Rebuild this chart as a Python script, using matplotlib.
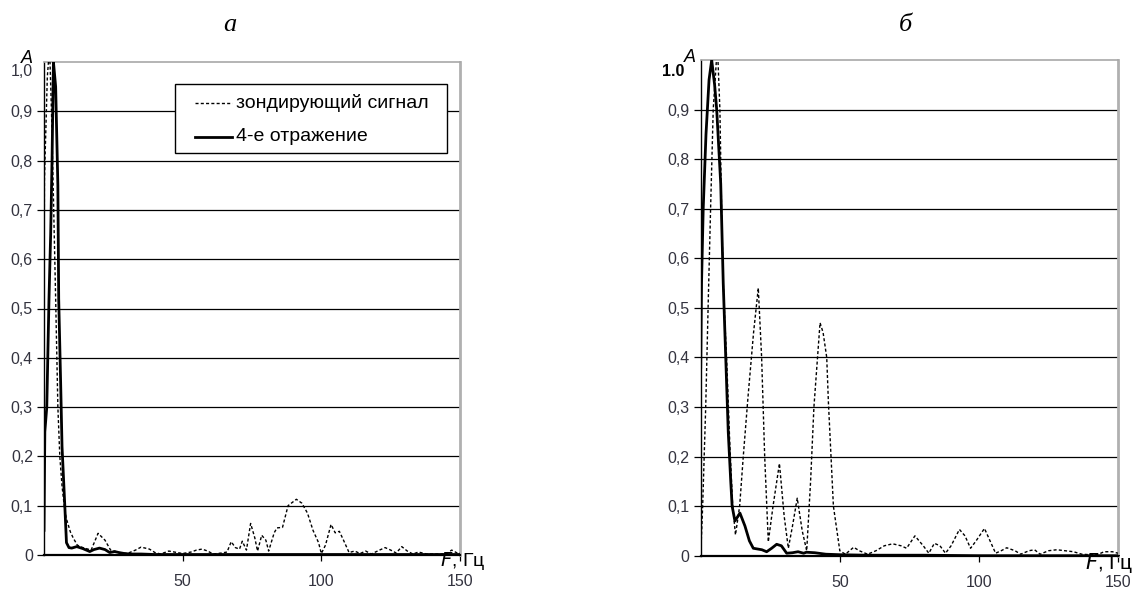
import matplotlib
matplotlib.use("Agg")
import matplotlib.pyplot as plt
from matplotlib.patches import Rectangle
from matplotlib.lines import Line2D

plt.rcParams['font.family'] = ['Liberation Sans', 'DejaVu Sans']

# ---------------- data ----------------
# panel a: probe signal (dashed)
fa_probe = [0, 0.15, 1.2, 2.0, 2.7, 3.5, 4.2, 5.0, 5.7, 6.5, 7.3, 8, 9.5, 10.5, 12, 14, 17,
            19.5, 22, 24, 27, 30, 33, 35, 38, 40, 42, 45, 48, 50, 53, 55, 57, 59, 61, 64,
            66, 67.5, 69, 70.5, 71.5, 73, 74.5, 76, 77, 78.5, 80, 81, 83, 84, 86, 88, 91,
            93, 95, 97, 99, 100, 101.5, 103.5, 105, 106.5, 108, 110, 112, 114, 116, 118,
            121, 123, 125, 127, 129, 131, 133, 135, 138, 142, 145, 147, 149, 150]
aa_probe = [0.47, 0.76, 0.97, 1.03, 0.9, 0.7, 0.52, 0.3, 0.2, 0.14, 0.1, 0.075, 0.047, 0.035,
            0.02, 0.015, 0.01, 0.044, 0.03, 0.01, 0.005, 0.003, 0.01, 0.016, 0.012, 0.005,
            0.002, 0.008, 0.005, 0.003, 0.006, 0.01, 0.012, 0.008, 0.002, 0.004, 0.006,
            0.027, 0.015, 0.012, 0.028, 0.01, 0.064, 0.035, 0.008, 0.04, 0.03, 0.008, 0.045,
            0.055, 0.056, 0.1, 0.113, 0.105, 0.085, 0.05, 0.025, 0.003, 0.02, 0.062, 0.045,
            0.048, 0.03, 0.005, 0.008, 0.003, 0.008, 0.002, 0.01, 0.015, 0.01, 0.004, 0.017,
            0.008, 0.002, 0.006, 0.002, 0.002, 0.002, 0.01, 0.004, 0.004]

# panel a: 4th reflection (solid)
fa_refl = [0, 0.3, 1.0, 1.8, 2.4, 2.9, 3.4, 4.2, 5.0, 5.3, 6.0, 6.5, 7.5, 8.1, 9, 10, 11.8,
           14, 16.5, 18, 20, 22, 23.7, 25.5, 27, 29, 31, 35, 40, 50, 150]
aa_refl = [0.05, 0.25, 0.3, 0.52, 0.65, 0.8, 1.0, 0.95, 0.75, 0.52, 0.35, 0.22, 0.1, 0.025,
           0.015, 0.014, 0.017, 0.013, 0.007, 0.011, 0.014, 0.011, 0.005, 0.007, 0.005, 0.003,
           0.002, 0.002, 0.001, 0.001, 0.001]

# panel b: probe signal (dashed)
fb_probe = [0, 0.7, 1.8, 2.7, 3.6, 4.5, 6.0, 6.9, 7.5, 8.1, 8.7, 9.3, 10.5, 11.5, 12.5, 14,
            15.3, 17, 19, 20.7, 21.9, 23.0, 24.3, 26, 28.3, 30, 31.5, 33, 34.7, 36.5, 38.1,
            39.5, 40.7, 42.9, 44, 45.3, 45.9, 47.7, 50, 52, 55, 57, 60, 63, 66, 69, 72, 74,
            77, 80, 82, 84, 86, 88, 90, 93, 95, 97, 99, 102, 104, 106, 108, 110, 113, 115,
            118, 120, 122, 125, 128, 131, 134, 137, 140, 143, 145, 148, 150]
ab_probe = [0.0, 0.1, 0.3, 0.51, 0.71, 0.9, 1.03, 0.9, 0.7, 0.55, 0.47, 0.4, 0.22, 0.1, 0.042,
            0.1, 0.2, 0.32, 0.45, 0.54, 0.4, 0.2, 0.028, 0.1, 0.186, 0.08, 0.015, 0.06, 0.116,
            0.05, 0.01, 0.15, 0.3, 0.47, 0.45, 0.4, 0.31, 0.1, 0.01, 0.003, 0.017, 0.01, 0.003,
            0.01, 0.02, 0.024, 0.02, 0.015, 0.04, 0.02, 0.005, 0.025, 0.02, 0.005, 0.02, 0.053,
            0.04, 0.015, 0.03, 0.055, 0.03, 0.005, 0.01, 0.016, 0.01, 0.003, 0.01, 0.012,
            0.003, 0.01, 0.012, 0.01, 0.008, 0.003, 0.002, 0.003, 0.008, 0.008, 0.005]

# panel b: 4th reflection (solid)
fb_refl = [0, 0.3, 0.9, 1.9, 3.0, 3.95, 5.0, 5.75, 7.2, 8.1, 8.7, 9.3, 9.9, 10.8, 11.3, 12.3,
           14.1, 15.9, 17.5, 18.9, 22, 23.7, 25.5, 27.3, 29, 30.9, 33, 35, 37, 38, 41, 45,
           50, 60, 80, 100, 150]
ab_refl = [0.38, 0.55, 0.7, 0.85, 0.96, 1.0, 0.95, 0.9, 0.75, 0.55, 0.45, 0.35, 0.25, 0.15,
           0.1, 0.07, 0.086, 0.06, 0.03, 0.015, 0.012, 0.008, 0.015, 0.023, 0.02, 0.005,
           0.006, 0.008, 0.005, 0.007, 0.006, 0.003, 0.002, 0.001, 0.001, 0.0, 0.0]

yticks = [0, 0.1, 0.2, 0.3, 0.4, 0.5, 0.6, 0.7, 0.8, 0.9]
ytick_labels = ['0', '0,1', '0,2', '0,3', '0,4', '0,5', '0,6', '0,7', '0,8', '0,9']
xticks = [50, 100, 150]
xtick_labels = ['50', '100', '150']
legend_labels = ['зондирующий сигнал', '4-е отражение']
panel_titles = ['а', 'б']

# ---------------- figure ----------------
fig = plt.figure(figsize=(11.34, 5.90), dpi=100)
ax_a = fig.add_axes([44 / 1134, 35 / 590, 416 / 1134, 493 / 590])
ax_b = fig.add_axes([700.7 / 1134, 34.3 / 590, 417.3 / 1134, 495.7 / 590])

tick_color = '#33333f'
dash = (0, (2.2, 1.6))
TICK_FS = 11.5


def style(ax):
    ax.set_xlim(0, 150)
    ax.set_ylim(0, 1.0)
    ax.set_yticks(yticks)
    ax.set_yticklabels(ytick_labels, color=tick_color, fontsize=TICK_FS)
    ax.set_xticks(xticks)
    ax.set_xticklabels(xtick_labels, color=tick_color, fontsize=TICK_FS)
    ax.tick_params(axis='y', length=5, width=0.9, pad=3)
    ax.tick_params(axis='x', length=4, width=0.9, pad=10)
    for y in yticks[1:]:
        ax.axhline(y, color='black', lw=0.9, zorder=1)
    ax.spines['left'].set_color('black')
    ax.spines['left'].set_linewidth(1.0)
    ax.spines['bottom'].set_color('black')
    ax.spines['bottom'].set_linewidth(1.6)
    ax.spines['top'].set_color('#a8a8a8')
    ax.spines['top'].set_linewidth(1.2)
    ax.spines['right'].set_color('#b0b0b0')
    ax.spines['right'].set_linewidth(2.0)


# panel a
style(ax_a)
ax_a.plot(fa_probe, aa_probe, color='black', lw=1.0, linestyle=dash, zorder=3)
ax_a.plot(fa_refl, aa_refl, color='black', lw=2.0, zorder=4)

# legend box (drawn in axes coordinates)
box_x0, box_x1, box_y0, box_y1 = 0.3149, 0.9688, 0.8154, 0.9554
ax_a.add_patch(Rectangle((box_x0, box_y0), box_x1 - box_x0, box_y1 - box_y0,
                         transform=ax_a.transAxes, facecolor='white', edgecolor='black',
                         lw=1.0, zorder=6))
row_y = [0.9168, 0.8479]
handle_styles = [dict(lw=1.0, linestyle=dash), dict(lw=2.0, linestyle='-')]
for yy, lab, hs in zip(row_y, legend_labels, handle_styles):
    ax_a.add_line(Line2D([0.363, 0.452], [yy, yy], transform=ax_a.transAxes,
                         color='black', zorder=7, **hs))
    ax_a.text(0.4615, yy, lab, transform=ax_a.transAxes, ha='left', va='center',
              fontsize=14, zorder=7)

# panel b
style(ax_b)
ax_b.plot(fb_probe, ab_probe, color='black', lw=1.0, linestyle=dash, zorder=3)
ax_b.plot(fb_refl, ab_refl, color='black', lw=2.0, zorder=4)

# labels "1,0" / "1.0" and "A"
ax_a.text(-0.026, 0.98, '1,0', transform=ax_a.transAxes, ha='right', va='center',
          fontsize=TICK_FS, color=tick_color)
ax_b.text(-0.038, 0.976, '1.0', transform=ax_b.transAxes, ha='right', va='center',
          fontsize=TICK_FS, color='black', fontweight='bold')
ax_a.text(-0.041, 1.008, 'A', transform=ax_a.transAxes, ha='center', va='center',
          fontsize=13, style='italic', clip_on=False)
ax_b.text(-0.026, 1.006, 'A', transform=ax_b.transAxes, ha='center', va='center',
          fontsize=13, style='italic', clip_on=False)

# axis label "F, Гц"
ax_a.text(0.952, -0.013, r'$\mathit{F}$, Гц', transform=ax_a.transAxes, ha='left',
          va='center', fontsize=14, clip_on=False)
ax_b.text(0.921, -0.014, r'$\mathit{F}$, Гц', transform=ax_b.transAxes, ha='left',
          va='center', fontsize=15, clip_on=False)

# panel titles
fig.text(230 / 1134, 1 - 25 / 590, panel_titles[0], ha='center', va='center',
         fontsize=19, style='italic', family='Liberation Serif')
fig.text(905 / 1134, 1 - 25 / 590, panel_titles[1], ha='center', va='center',
         fontsize=19, style='italic', family='Liberation Serif')

fig.savefig('out.png', dpi=100)
